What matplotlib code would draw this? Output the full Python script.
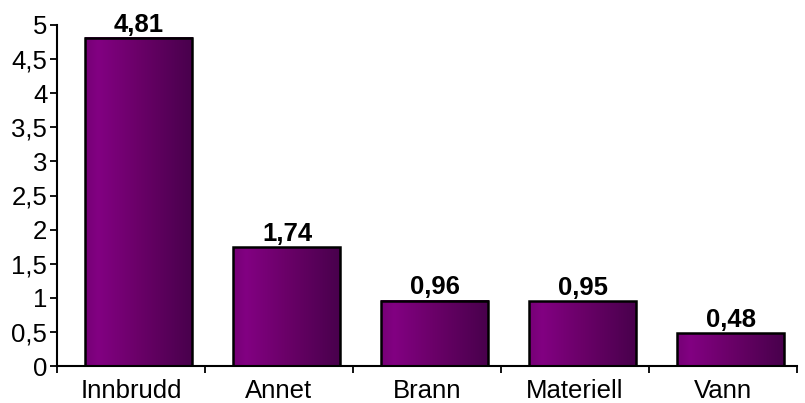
import matplotlib
matplotlib.use("Agg")
import matplotlib.pyplot as plt
import numpy as np
from matplotlib.colors import LinearSegmentedColormap

categories = ["Innbrudd", "Annet", "Brann", "Materiell", "Vann"]
values = [4.81, 1.74, 0.96, 0.95, 0.48]
value_labels = ["4,81", "1,74", "0,96", "0,95", "0,48"]
ytick_vals = [0, 0.5, 1, 1.5, 2, 2.5, 3, 3.5, 4, 4.5, 5]
ytick_labels = ["0", "0,5", "1", "1,5", "2", "2,5", "3", "3,5", "4", "4,5", "5"]

plt.rcParams['font.family'] = ['Liberation Sans', 'DejaVu Sans']

fig = plt.figure(figsize=(8.05, 4.03), dpi=100)
ax = fig.add_axes([57/805, 37/403, 740/805, 341/403])

cmap = LinearSegmentedColormap.from_list(
    "purp", [(0.0, "#760076"), (0.12, "#820082"), (0.5, "#6a0068"), (1.0, "#48004c")])
grad = np.linspace(0, 1, 256).reshape(1, -1)

width = 0.723
offset = 0.054
for i, v in enumerate(values):
    x0 = i + offset - width / 2
    x1 = i + offset + width / 2
    ax.imshow(grad, extent=(x0, x1, 0, v), aspect='auto', cmap=cmap,
              interpolation='bilinear', zorder=2)
    ax.bar(i + offset, v, width=width, facecolor='none', edgecolor='black',
           linewidth=1.8, zorder=3)
    ax.annotate(value_labels[i], (i + offset, v), xytext=(0, 4.5),
                textcoords='offset points', ha='center', va='baseline',
                fontsize=18.5, fontweight='bold', zorder=4)

ax.set_xlim(-0.5, 4.5)
ax.set_ylim(0, 5)
ax.set_yticks(ytick_vals)
ax.set_yticklabels(ytick_labels, fontsize=18.5)
ax.set_xticks(range(len(categories)))
ax.set_xticklabels(categories, fontsize=18.5)
ax.set_xticks(np.arange(-0.5, 5.0, 1.0), minor=True)
ax.tick_params(axis='x', which='major', length=0, pad=9)
ax.tick_params(axis='x', which='minor', length=5, width=1.3, direction='out')
ax.tick_params(axis='y', length=5, width=1.3, direction='out', pad=2)
for s in ['top', 'right']:
    ax.spines[s].set_visible(False)
for s in ['left', 'bottom']:
    ax.spines[s].set_linewidth(1.5)

fig.savefig("out.png", dpi=100)
